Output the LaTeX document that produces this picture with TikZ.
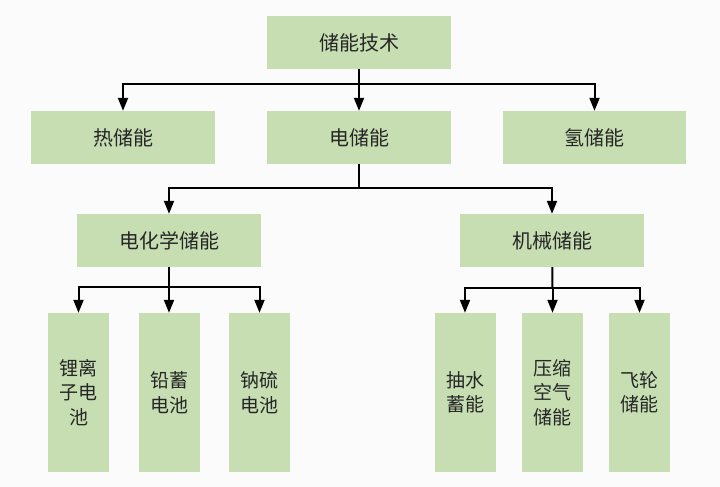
\documentclass[tikz,border=0pt]{standalone}
\usepackage{fontspec}
\newfontfamily\cjk{Noto Sans CJK SC}
\usetikzlibrary{arrows.meta}
\definecolor{boxfill}{HTML}{C6DEB2}
\definecolor{bgc}{HTML}{FBFBFB}
\definecolor{txt}{HTML}{262626}
\begin{document}
\begin{tikzpicture}[x=1pt,y=1pt,
  box/.style={fill=boxfill, draw=none, inner sep=0pt, text=txt,
    font=\cjk\fontsize{20}{24}\selectfont, minimum width=184pt, minimum height=53pt},
  leaf/.style={fill=boxfill, draw=none, inner sep=0pt, text=txt, align=center,
    font=\cjk\fontsize{19}{24.5}\selectfont, minimum width=61pt, minimum height=159pt},
  conn/.style={line width=2pt, draw=black},
  arr/.style={conn, -{Triangle[length=13pt,width=10pt]}}]
\fill[bgc] (0,0) rectangle (720,487);
\useasboundingbox (0,0) rectangle (720,487);

\node[box] (root) at (359,444.5) {储能技术};
\node[box] (heat) at (123,349.5) {热储能};
\node[box] (elec) at (359,349.5) {电储能};
\node[box, minimum width=183pt] (hyd) at (594.5,349.5) {氢储能};
\node[box] (chem) at (169,246.5) {电化学储能};
\node[box] (mech) at (552,246.5) {机械储能};

\node[leaf] (li) at (78.5,94.5) {锂离\\子电\\池};
\node[leaf] (pb) at (169,94.5) {铅蓄\\电池};
\node[leaf] (nas) at (259.5,94.5) {钠硫\\电池};
\node[leaf] (ph) at (465,94.5) {抽水\\蓄能};
\node[leaf] (caes) at (552.5,94.5) {压缩\\空气\\储能};
\node[leaf] (fw) at (639.5,94.5) {飞轮\\储能};

\coordinate (j1) at (359,403);
\coordinate (j2) at (359,299);
\coordinate (j3) at (169,200);
\coordinate (j4) at (552.5,199);

\draw[conn] (root) -- (j1);
\draw[arr] (j1) -| (heat.north);
\draw[arr] (j1) -- (elec.north);
\draw[arr] (j1) -| (hyd.north);

\draw[conn] (elec) -- (j2);
\draw[arr] (j2) -| (chem.north);
\draw[arr] (j2) -| (mech.north);

\draw[conn] (chem) -- (j3);
\draw[arr] (j3) -| (li.north);
\draw[arr] (j3) -- (pb.north);
\draw[arr] (j3) -| (nas.north);

\draw[conn] (mech) -- (j4);
\draw[arr] (j4) -| (ph.north);
\draw[arr] (j4) -- (caes.north);
\draw[arr] (j4) -| (fw.north);
\end{tikzpicture}
\end{document}
